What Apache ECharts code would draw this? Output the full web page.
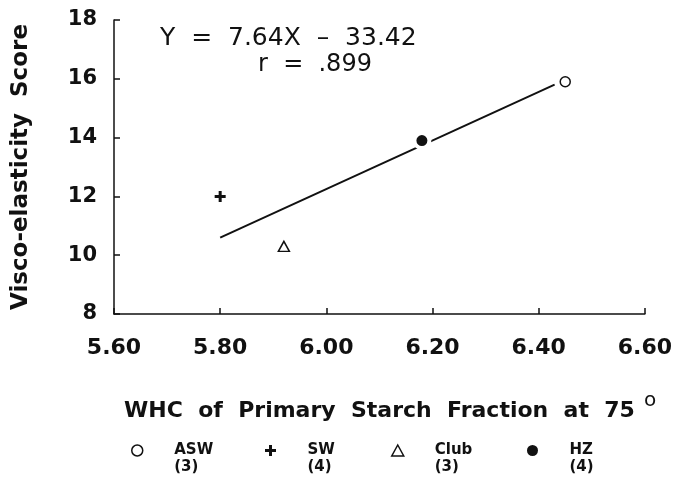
<!DOCTYPE html>
<html>
<head>
<meta charset="utf-8">
<script src="https://cdn.jsdelivr.net/npm/echarts@6/dist/echarts.min.js"></script>
<style>
  html, body { margin: 0; padding: 0; background: #fff; }
  #chart { width: 675px; height: 481px; }
</style>
</head>
<body>
<div id="chart"></div>
<script>
// groups of wheat, with number of samples
var groups = ['ASW', 'SW', 'Club', 'HZ'];
var counts = ['(3)', '(4)', '(3)', '(4)'];
// WHC of primary starch fraction (x) and visco-elasticity score (y)
var whc = [6.45, 5.80, 5.92, 6.18];
var score = [15.9, 12.0, 10.3, 13.9];
// regression line ends
var fitX = [5.80, 6.43];
var fitY = [10.6, 15.8];

var ink = '#111';
var font = 'DejaVu Sans';

var symbols = {
  'ASW': { symbol: 'circle', size: 10, style: { color: '#fff', borderColor: ink, borderWidth: 1.5, opacity: 1 } },
  'SW': { symbol: 'path://M4,0H7V4H11V7H7V11H4V7H0V4H4Z', size: 11, style: { color: ink, opacity: 1 } },
  'Club': { symbol: 'triangle', size: [11, 10], style: { color: '#fff', borderColor: ink, borderWidth: 1.5, opacity: 1 } },
  'HZ': { symbol: 'circle', size: 15, style: { color: ink, borderColor: '#fff', borderWidth: 4, opacity: 1 } }
};
var legendX = [137, 271, 397, 533];

var chart = echarts.init(document.getElementById('chart'));

var series = [];
series.push({
  name: 'fit',
  type: 'line',
  data: fitX.map(function (x, i) { return [x, fitY[i]]; }),
  symbol: 'none',
  lineStyle: { color: ink, width: 2 },
  z: 1,
  silent: true
});
for (var i = 0; i < groups.length; i++) {
  var s = symbols[groups[i]];
  series.push({
    name: groups[i],
    type: 'scatter',
    symbol: s.symbol,
    symbolSize: s.size,
    itemStyle: s.style,
    data: [[whc[i], score[i]]],
    z: 3
  });
}

var legends = groups.map(function (g, i) {
  return {
    data: [{ name: g, itemStyle: { borderWidth: g == 'HZ' ? 0 : 1.5 } }],
    left: legendX[i] - 6,
    top: 426,
    padding: 0,
    itemWidth: 12,
    itemHeight: 11,
    selectedMode: false,
    // empty first line keeps the name level with the symbol
    formatter: function (name) {
      return '{t| }\n{t|' + name + '}\n{t|' + counts[groups.indexOf(name)] + '}';
    },
    textStyle: {
      rich: {
        t: {
          fontFamily: font,
          fontWeight: 'bold',
          fontSize: 15,
          lineHeight: 17,
          color: ink,
          padding: [0, 0, 0, 26]
        }
      }
    }
  };
});

var option = {
  backgroundColor: '#fff',
  animation: false,
  textStyle: { fontFamily: font, fontWeight: 'bold', color: ink },
  grid: { left: 114, right: 30, top: 20, bottom: 167 },
  xAxis: {
    type: 'value',
    min: 5.6,
    max: 6.6,
    interval: 0.2,
    name: 'WHC  of  Primary  Starch  Fraction  at  75',
    nameLocation: 'middle',
    nameGap: 86,
    nameTextStyle: { fontFamily: font, fontWeight: 'bold', fontSize: 22, color: ink },
    axisLine: { lineStyle: { color: ink, width: 1.5 } },
    axisTick: { inside: true, length: 6, lineStyle: { color: ink, width: 1.5 } },
    splitLine: { show: false },
    axisLabel: {
      margin: 23,
      fontFamily: font,
      fontWeight: 'bolder',
      fontSize: 22,
      color: ink,
      formatter: function (v) { return v.toFixed(2); }
    }
  },
  yAxis: {
    type: 'value',
    min: 8,
    max: 18,
    interval: 2,
    name: 'Visco-elasticity  Score',
    nameLocation: 'middle',
    nameGap: 81,
    nameTextStyle: { fontFamily: font, fontWeight: 'bold', fontSize: 23, color: ink },
    axisLine: { show: true, lineStyle: { color: ink, width: 1.5 } },
    axisTick: { show: true, inside: true, length: 6, lineStyle: { color: ink, width: 1.5 } },
    splitLine: { show: false },
    axisLabel: {
      margin: 17,
      fontFamily: font,
      fontWeight: 'bolder',
      fontSize: 21,
      color: ink
    }
  },
  legend: legends,
  graphic: [
    {
      type: 'text', left: 160, top: 26,
      style: { text: 'Y  =  7.64X  –  33.42', font: '25px "' + font + '"', fill: ink }
    },
    {
      type: 'text', left: 258, top: 53,
      style: { text: 'r  =  .899', font: '24px "' + font + '"', fill: ink }
    },
    {
      type: 'text', left: 644, top: 391,
      style: { text: 'o', font: '20px "' + font + '"', fill: ink }
    }
  ],
  series: series
};
chart.setOption(option);
</script>
</body>
</html>
